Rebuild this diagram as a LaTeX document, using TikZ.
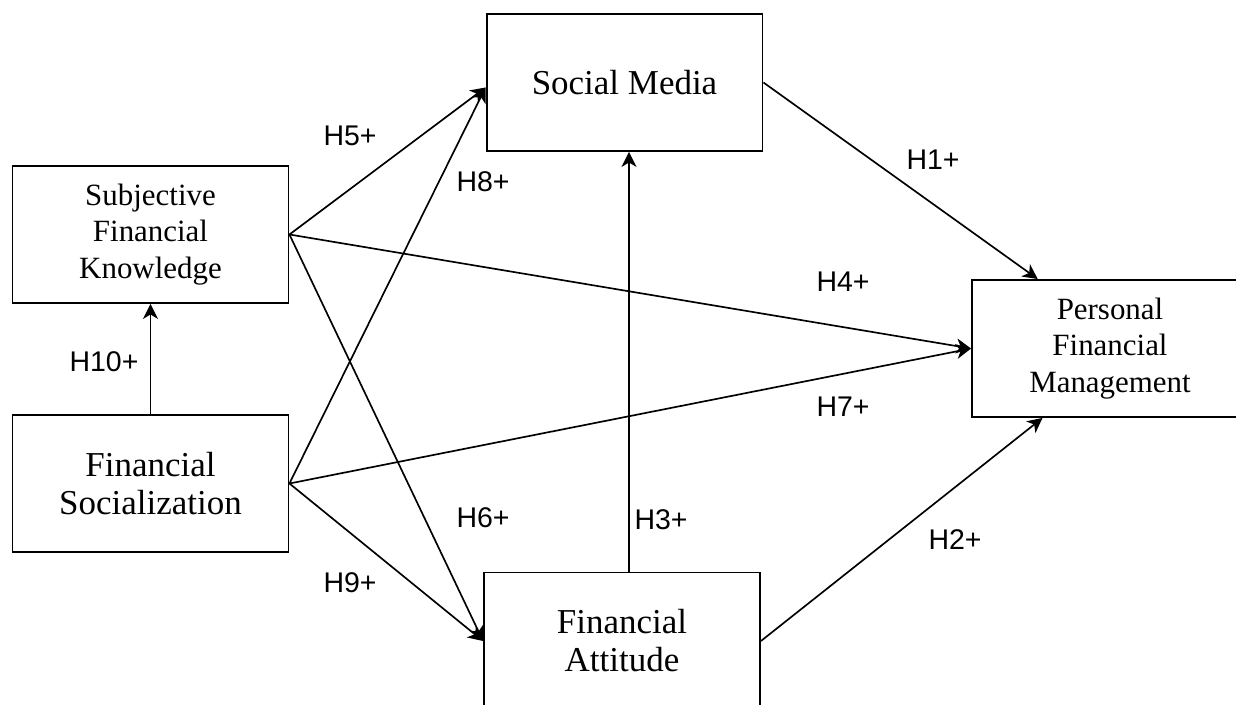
\documentclass[tikz,border=0pt]{standalone}
\usepackage{fontspec}
\setmainfont{Liberation Serif}
\newfontfamily\hypfont{Liberation Sans}
\usetikzlibrary{arrows.meta,calc}

\tikzset{
	construct/.style={draw=black, line width=1.1pt, fill=white, minimum width=5.52cm, minimum height=2.74cm, inner sep=0pt, align=center},
	bigtext/.style={font=\fontsize{19.9}{21.6}\selectfont},
	smalltext/.style={font=\fontsize{17.6}{20.9}\selectfont},
	hyparrow/.style={draw=black, line width=0.95pt, -{Stealth[length=8.5pt,width=8.5pt,inset=2.5pt]}},
	hyplabel/.style={font=\hypfont\fontsize{16.2}{18}\selectfont, inner sep=0pt},
}

\begin{document}
\begin{tikzpicture}[x=0.02cm, y=-0.02cm]
			\useasboundingbox (0,0) rectangle (1236,705);
			\clip (0,0) rectangle (1236,705);
			% constructs
			\node[construct, bigtext] (sm) at (624.5,82.5) {Social Media};
			\node[construct, smalltext] (sfk) at (150.5,234.5) {Subjective\\Financial\\Knowledge};
			\node[construct, bigtext] (fs) at (150.5,483.5) {Financial\\Socialization};
			\node[construct, bigtext] (fa) at (622,641) {Financial\\Attitude};
			\node[construct, smalltext] (pfm) at (1110,348.5) {Personal\\Financial\\Management};
			% hypotheses
			\draw[hyparrow] (sm.east) -- ($(pfm.north west)!0.24!(pfm.north east)$);
			\draw[hyparrow] (fa.east) -- ($(pfm.south west)!0.257!(pfm.south east)$);
			\draw[hyparrow] ([xshift=0.14cm]fa.north) -- ([xshift=0.14cm]fa.north |- sm.south);
			\draw[hyparrow] (sfk.east) -- (pfm.west);
			\draw[hyparrow] (sfk.east) -- ([yshift=-0.1cm]sm.west);
			\draw[hyparrow] (sfk.east) -- (fa.west);
			\draw[hyparrow] (fs.east) -- (pfm.west);
			\draw[hyparrow] (fs.east) -- ([yshift=-0.1cm]sm.west);
			\draw[hyparrow] (fs.east) -- (fa.west);
			\draw[hyparrow] (fs.north) -- (sfk.south);
			% labels
			\node[hyplabel] (h1) at (933,160) {H1+};
			\node[hyplabel] (h2) at (955,540) {H2+};
			\node[hyplabel] (h3) at (661,520) {H3+};
			\node[hyplabel] (h4) at (843,282) {H4+};
			\node[hyplabel] (h5) at (350,136) {H5+};
			\node[hyplabel] (h6) at (483,518) {H6+};
			\node[hyplabel] (h7) at (843,407) {H7+};
			\node[hyplabel] (h8) at (483,182) {H8+};
			\node[hyplabel] (h9) at (350,583) {H9+};
			\node[hyplabel] (h10) at (104,362) {H10+};
		\end{tikzpicture}
\end{document}
